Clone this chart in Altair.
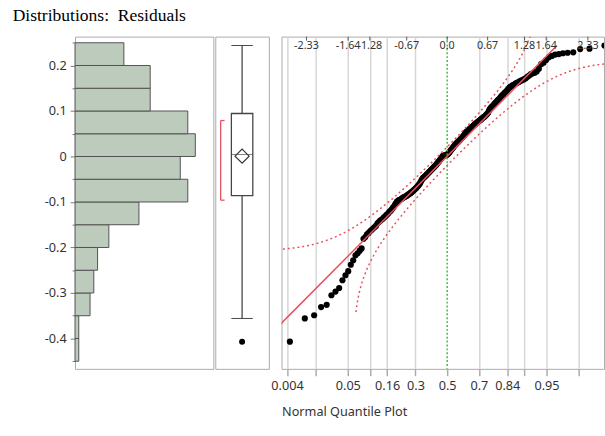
import json
from statistics import NormalDist

import altair as alt
import numpy as np
import pandas as pd

# Residuals, sorted ascending
residuals = [
    -0.407,
    -0.356,
    -0.349, -0.331, -0.326, -0.305,
    -0.297, -0.289, -0.272, -0.261, -0.252,
    -0.238, -0.228, -0.217, -0.213, -0.207, -0.202,
    -0.181, -0.177, -0.171, -0.168, -0.164, -0.161, -0.158, -0.155, -0.152,
    -0.147, -0.144, -0.141, -0.139, -0.137, -0.134, -0.132, -0.129, -0.127,
    -0.124, -0.121, -0.119, -0.116, -0.113, -0.110, -0.106, -0.103,
    -0.099, -0.098, -0.096, -0.095, -0.094, -0.093, -0.091, -0.090, -0.089, -0.088,
    -0.087, -0.086, -0.084, -0.083, -0.082, -0.080, -0.079, -0.077, -0.076, -0.074,
    -0.072, -0.071, -0.069, -0.067, -0.065, -0.063, -0.061, -0.058, -0.055, -0.052,
    -0.049, -0.047, -0.046, -0.044, -0.043, -0.041, -0.039, -0.038, -0.036, -0.034,
    -0.033, -0.031, -0.029, -0.028, -0.026, -0.025, -0.023, -0.021, -0.020, -0.018,
    -0.016, -0.014, -0.012, -0.010, -0.008, -0.006, -0.004, -0.002,
    0.001, 0.001, 0.002, 0.002, 0.003, 0.003, 0.004, 0.005, 0.006, 0.008,
    0.010, 0.012, 0.014, 0.016, 0.018, 0.020, 0.022, 0.024, 0.026, 0.027,
    0.029, 0.031, 0.032, 0.034, 0.035, 0.037, 0.039, 0.040, 0.042, 0.044,
    0.046, 0.048,
    0.051, 0.053, 0.054, 0.056, 0.057, 0.059, 0.060, 0.062, 0.063, 0.065,
    0.066, 0.068, 0.069, 0.071, 0.072, 0.074, 0.075, 0.077, 0.078, 0.079,
    0.081, 0.082, 0.084, 0.085, 0.087, 0.088, 0.090, 0.092, 0.094, 0.096,
    0.101, 0.104, 0.107, 0.109, 0.111, 0.113, 0.116, 0.118, 0.120, 0.123,
    0.125, 0.127, 0.130, 0.133, 0.135, 0.137, 0.140, 0.142, 0.145, 0.148,
    0.151, 0.153, 0.155, 0.157, 0.158, 0.160, 0.162, 0.163, 0.165, 0.167,
    0.168, 0.170, 0.172, 0.175, 0.178, 0.181, 0.183, 0.184, 0.187, 0.193,
    0.203, 0.206, 0.212, 0.218, 0.221, 0.224, 0.225, 0.227, 0.228, 0.229,
    0.236, 0.237, 0.244,
]

# Histogram bins and left axis ticks
bin_extent = [-0.45, 0.25]
bin_step = 0.05
hist_ticks = [-0.45, -0.4, -0.35, -0.3, -0.25, -0.2, -0.15, -0.1, -0.05,
              0.0, 0.05, 0.1, 0.15, 0.2, 0.25]

# Normal quantile plot: top (normal quantile) and bottom (probability) ticks
top_z = [-2.33, -1.64, -1.28, -0.67, 0.0, 0.67, 1.28, 1.64, 2.33]
top_labels = ["-2.33", "-1.64", "-1.28", "-0.67", "0.0", "0.67", "1.28", "1.64", "2.33"]
prob_ticks = [0.004, 0.015, 0.05, 0.1, 0.16, 0.3, 0.5, 0.7, 0.84, 0.9, 0.95, 0.985]
prob_labels = ["0.004", "0.05", "0.16", "0.3", "0.5", "0.7", "0.84", "0.95"]

# Shared value range of the three panels and quantile range of the last one
y_range = [-0.4668, 0.2634]
z_range = [-2.742, 2.597]

PANEL_H = 341
HIST_W, BOX_W, QQ_W = 142, 55, 331
FONT = "Noto Sans"
RED = "#e5505c"
GRID = "#d6d6d6"
INK = "#444444"

values = np.array(sorted(residuals))
n = len(values)
mean = float(values.mean())
sd = float(values.std(ddof=1))
crit = 0.886 / np.sqrt(n)  # Lilliefors 5% bound

# shortest interval holding half of the observations
half = n // 2
widths = values[half - 1:] - values[: n - half + 1]
i0 = int(np.argmin(widths))
short_lo, short_hi = float(values[i0]), float(values[i0 + half - 1])

df = pd.DataFrame({"residual": residuals})
y_scale = alt.Scale(domain=y_range, nice=False, zero=False, padding=0)
z_scale = alt.Scale(domain=z_range, nice=False, zero=False, padding=0)

# ---------- histogram ----------
tenth = "abs(datum.value * 10 - round(datum.value * 10)) < 0.001"
hist_axis = alt.Axis(
    values=hist_ticks,
    labelExpr=(
        f"{tenth} ? ((datum.value < -0.001 ? '-' : '') + "
        "(abs(datum.value) < 0.001 ? '0' : format(abs(datum.value), '.1f'))) : ''"
    ),
    tickSize={"condition": {"test": tenth, "value": 5}, "value": 3},
    tickColor="#777777",
    domain=False,
    grid=False,
    labelFont=FONT,
    labelFontSize=13,
    labelColor="#333333",
    labelPadding=4,
    labelOverlap=False,
    labelFlush=False,
    title=None,
)

hist = (
    alt.Chart(df)
    .transform_bin(as_=["bin_lo", "bin_hi"], field="residual",
                   bin=alt.Bin(extent=bin_extent, step=bin_step))
    .transform_aggregate(count="count()", groupby=["bin_lo", "bin_hi"])
    .mark_bar(fill="#bccbbc", stroke="#505050", strokeWidth=1, orient="horizontal")
    .encode(
        y=alt.Y("bin_lo:Q", scale=y_scale, axis=hist_axis),
        y2="bin_hi:Q",
        x=alt.X("count:Q", scale=alt.Scale(domain=[0, 36.8], nice=False, padding=0),
                axis=None),
        x2=alt.datum(0),
    )
    .properties(width=HIST_W, height=PANEL_H)
)

# ---------- box plot ----------
box = (
    alt.Chart(df)
    .mark_boxplot(
        extent=1.5,
        size=22,
        box={"fill": "white", "stroke": INK, "strokeWidth": 1.3},
        median={"color": INK, "strokeWidth": 1.3},
        rule={"color": INK, "strokeWidth": 1.3},
        ticks={"color": INK, "strokeWidth": 1.3, "size": 22},
        outliers={"color": "black", "filled": True, "size": 38, "opacity": 1},
    )
    .encode(y=alt.Y("residual:Q", scale=y_scale, axis=None))
)

mean_diamond = (
    alt.Chart(df)
    .transform_aggregate(mean="mean(residual)")
    .mark_point(shape="diamond", size=210, filled=False, color="#333333",
                strokeWidth=1.2, opacity=1)
    .encode(y=alt.Y("mean:Q", scale=y_scale, axis=None))
)

half_df = pd.DataFrame({"lo": [short_lo], "hi": [short_hi]})
bracket_side = (
    alt.Chart(half_df)
    .mark_rule(color=RED, strokeWidth=1.3)
    .encode(x=alt.value(5.5), y=alt.Y("lo:Q", scale=y_scale, axis=None), y2="hi:Q")
)
bracket_ends = (
    alt.Chart(pd.DataFrame({"end": [short_lo, short_hi]}))
    .mark_rule(color=RED, strokeWidth=1.3)
    .encode(x=alt.value(5.5), x2=alt.value(9.5),
            y=alt.Y("end:Q", scale=y_scale, axis=None))
)

box_panel = alt.layer(bracket_side, bracket_ends, box, mean_diamond).properties(
    width=BOX_W, height=PANEL_H
)

# ---------- normal quantile plot ----------
prob_z = [NormalDist().inv_cdf(p) for p in prob_ticks]
prob_fmt = "format(cumulativeNormal(datum.value), '.3~f')"
bottom_axis = alt.Axis(
    values=prob_z,
    labelExpr=f"indexof({json.dumps(prob_labels)}, {prob_fmt}) >= 0 ? {prob_fmt} : ''",
    grid=True,
    gridColor=GRID,
    gridWidth=1.5,
    gridOpacity={"condition": {"test": "abs(datum.value) < 0.001", "value": 0}, "value": 1},
    tickSize=7,
    tickColor="#aaaaaa",
    tickWidth=1.5,
    domain=False,
    labelFont=FONT,
    labelFontSize=13,
    labelColor="#333333",
    labelPadding=4,
    labelOverlap=False,
    labelFlush=False,
    title="Normal Quantile Plot",
    titleFont=FONT,
    titleFontSize=13,
    titleFontWeight="normal",
    titleColor="#333333",
    titleAnchor="start",
    titlePadding=14,
)

qq_base = (
    alt.Chart(df)
    .transform_window(rank="row_number()", sort=[alt.SortField("residual", order="ascending")])
    .transform_joinaggregate(n="count()")
    .transform_calculate(z="quantileNormal(datum.rank / (datum.n + 1))")
)
qq_points = qq_base.mark_circle(size=40, color="black", opacity=1, clip=True).encode(
    x=alt.X("z:Q", scale=z_scale, axis=bottom_axis),
    y=alt.Y("residual:Q", scale=y_scale, axis=None),
)

top_df = pd.DataFrame({"z": top_z, "label": top_labels})
top_marks = (
    alt.Chart(top_df)
    .mark_rule(color="#555555", strokeWidth=1)
    .encode(x=alt.X("z:Q", scale=z_scale, axis=None), y=alt.value(0), y2=alt.value(4))
)
top_text = (
    alt.Chart(top_df)
    .mark_text(font=FONT, fontSize=11, color="#333333", baseline="middle", align="center")
    .encode(x=alt.X("z:Q", scale=z_scale, axis=None), y=alt.value(10), text="label:N")
)

center_line = (
    alt.Chart(pd.DataFrame({"z": [0.0]}))
    .mark_rule(color="#3cbf3c", strokeDash=[2, 2], strokeWidth=1.5)
    .encode(x=alt.X("z:Q", scale=z_scale, axis=None))
)

fit_df = pd.DataFrame({
    "z": [(values.min() - mean) / sd, (values.max() - mean) / sd],
    "v": [values.min(), values.max()],
})
fit_line = (
    alt.Chart(fit_df)
    .mark_line(color=RED, strokeWidth=1.5, clip=True)
    .encode(x=alt.X("z:Q", scale=z_scale, axis=None),
            y=alt.Y("v:Q", scale=y_scale, axis=None))
)

# Lilliefors bands, kept to the visible part of the panel
band_src = alt.Chart(alt.sequence(-2.8, 2.65, 0.01, as_="z")).transform_calculate(
    p="cumulativeNormal(datum.z)"
)
y_lo, y_hi = y_range[0] - 0.03, y_range[1] + 0.03
upper_band = (
    band_src.transform_filter(f"datum.p + {crit} < 0.9999")
    .transform_calculate(v=f"{mean} + {sd} * quantileNormal(datum.p + {crit})")
    .transform_filter(f"datum.v < {y_hi}")
    .mark_line(color=RED, strokeDash=[2, 3], strokeWidth=1.5, clip=True)
    .encode(x=alt.X("z:Q", scale=z_scale, axis=None),
            y=alt.Y("v:Q", scale=y_scale, axis=None))
)
lower_band = (
    band_src.transform_filter(f"datum.p - {crit} > 0.004")
    .transform_calculate(v=f"{mean} + {sd} * quantileNormal(datum.p - {crit})")
    .transform_filter(f"datum.v > {y_lo}")
    .mark_line(color=RED, strokeDash=[2, 3], strokeWidth=1.5, clip=True)
    .encode(x=alt.X("z:Q", scale=z_scale, axis=None),
            y=alt.Y("v:Q", scale=y_scale, axis=None))
)

qq = (
    alt.layer(qq_points, center_line, upper_band, lower_band, fit_line, top_marks, top_text)
    .resolve_axis(x="independent")
    .properties(width=QQ_W, height=PANEL_H)
)

chart = (
    alt.hconcat(hist, box_panel, qq, spacing=0)
    .properties(
        title=alt.TitleParams(
            "Distributions:\u00a0 Residuals",
            anchor="start",
            frame="group",
            font="Liberation Serif",
            fontSize=18,
            fontWeight="normal",
            color="black",
            baseline="alphabetic",
            offset=-3,
            dx=-64,
        ),
        padding={"left": 13, "top": 1, "right": 0, "bottom": 0},
    )
    .configure_view(stroke="#aaaaaa", strokeWidth=1)
)

chart.save("out.html", embed_options={"renderer": "svg", "actions": False})
